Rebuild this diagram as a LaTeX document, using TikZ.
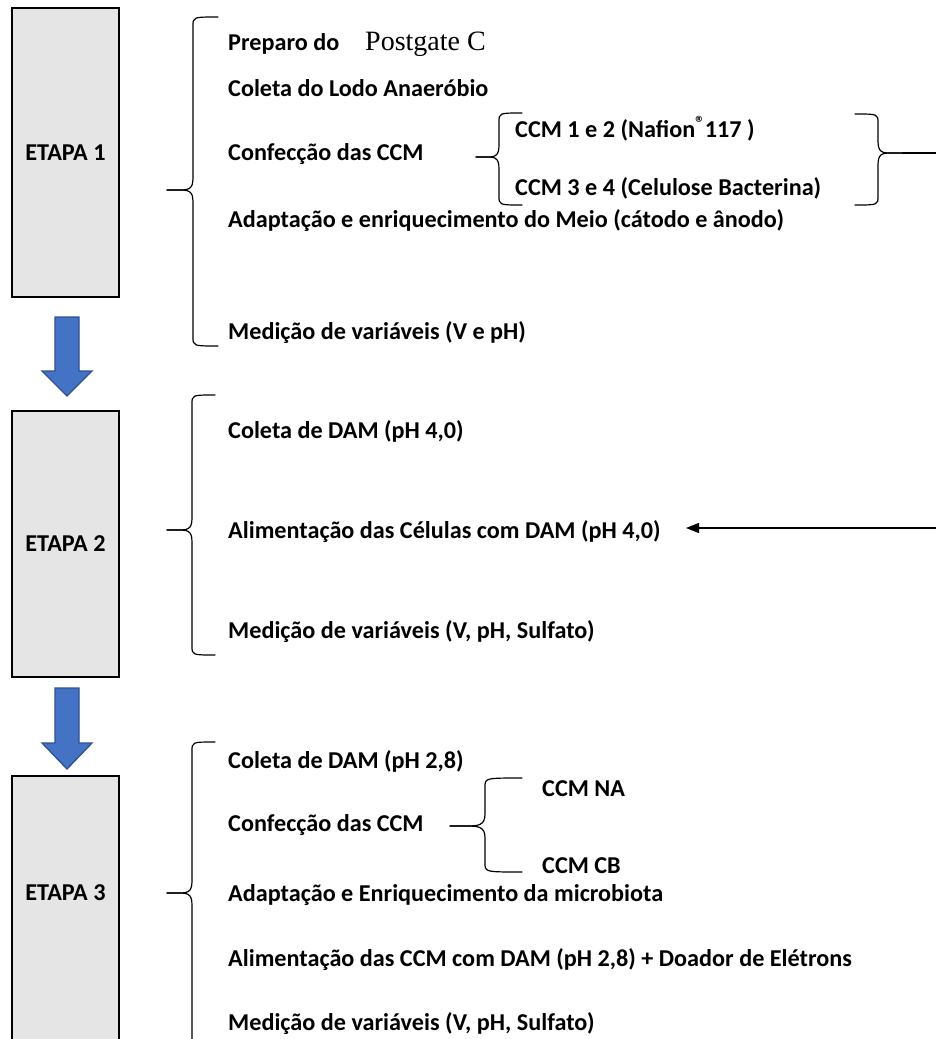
\documentclass[tikz,border=0pt]{standalone}
\usepackage{fontspec}
\setmainfont{Carlito}
\newfontfamily\pgserif{Liberation Serif}
\usetikzlibrary{arrows.meta}
\definecolor{stagegray}{HTML}{E5E5E5}
\definecolor{arrowblue}{HTML}{4472C4}
\definecolor{arrowedge}{HTML}{2F528F}
\newcommand\mybrc[6]{% xe, xv, xt, yt, ym, yb
  \draw[brc] (#1,#4) .. controls (#2,#4) .. (#2,#4+9) -- (#2,#5-12)
    .. controls (#2,#5) and ({#2+0.2*(#3-#2)},#5) .. ({#2+0.6*(#3-#2)},#5) -- (#3,#5);
  \draw[brc] (#3,#5) -- ({#2+0.6*(#3-#2)},#5) .. controls ({#2+0.2*(#3-#2)},#5) and (#2,#5) .. (#2,#5+12)
    -- (#2,#6-9) .. controls (#2,#6) .. (#1,#6);}
\newcommand\regmark{\raisebox{0.3em}{\fontsize{19}{19}\selectfont ®}}
\begin{document}
\begin{tikzpicture}[x=1pt,y=-1pt,
  stage/.style={draw=black,line width=2.5pt,fill=stagegray,minimum width=107pt,inner sep=0pt},
  stagetxt/.style={inner sep=0pt,font=\fontsize{24.2}{28}\selectfont\bfseries},
  item/.style={anchor=base west,inner sep=0pt,font=\fontsize{24.2}{28}\selectfont\bfseries},
  brc/.style={line width=1.2pt,line cap=round,line join=round},
  bluearrow/.style={fill=arrowblue,draw=arrowedge,line width=1.3pt,line join=miter},
  conn/.style={line width=1.3pt}]
\useasboundingbox (0,0) rectangle (936,1039);
\clip (0,0) rectangle (936,1039);
% stage boxes
\node[stage,minimum height=289pt] (box1) at (65.5,152.5) {};
\node[stagetxt] (et1) at (box1.center) {ETAPA 1};
\node[stage,minimum height=266pt] (box2) at (65.5,544) {};
\node[stagetxt] (et2) at (box2.center) {ETAPA 2};
\node[stage,minimum height=290pt] (box3) at (65.5,921) {};
\node[stagetxt] (et3) at (65.5,893) {ETAPA 3};
% blue arrows
\draw[bluearrow] (55,317) -- (79,317) -- (79,371) -- (92,371) -- (67,396) -- (42,371) -- (55,371) -- cycle;
\draw[bluearrow] (55,688) -- (79,688) -- (79,743) -- (92,743) -- (67,769) -- (42,743) -- (55,743) -- cycle;
% stage 1
\mybrc{218}{193}{167}{17}{190}{346}
\node[item] (s1a) at (228,50) {Preparo do};
\node[anchor=base west,inner sep=0pt,font=\pgserif\fontsize{28}{32}\selectfont] (s1b) at (365,50) {Postgate C};
\node[item] (s1c) at (228,96) {Coleta do Lodo Anaeróbio};
\node[item] (s1d) at (228,160) {Confecção das CCM};
\node[item] (s1e) at (228,227) {Adaptação e enriquecimento do Meio (cátodo e ânodo)};
\node[item] (s1f) at (228,339) {Medição de variáveis (V e pH)};
\mybrc{522}{499}{476}{113}{157}{205}
\node[item] (c1) at (515,137) {CCM 1 e 2 (Nafion\regmark117 )};
\node[item] (c2) at (515,195) {CCM 3 e 4 (Celulose Bacterina)};
\mybrc{855}{878}{902}{114}{153}{205}
\coordinate (rtip) at (902,153);
\coordinate (redge) at (937,153);
\draw[conn] (rtip) -- (redge);
% stage 2
\mybrc{215}{192}{167}{395}{530}{655}
\node[item] (s2a) at (228,438) {Coleta de DAM (pH 4,0)};
\node[item] (s2b) at (228,538) {Alimentação das Células com DAM (pH 4,0)};
\node[item] (s2c) at (228,638) {Medição de variáveis (V, pH, Sulfato)};
\coordinate (ain) at (937,528);
\coordinate (atip) at (686,528);
\draw[conn,-{Triangle[length=13pt,width=10pt]}] (ain) -- (atip);
% stage 3
\mybrc{215}{192}{167}{742}{893}{1070}
\node[item] (s3a) at (228,768) {Coleta de DAM (pH 2,8)};
\node[item] (s3b) at (228,831) {Confecção das CCM};
\node[item] (s3c) at (228,901) {Adaptação e Enriquecimento da microbiota};
\node[item] (s3d) at (228,966) {Alimentação das CCM com DAM (pH 2,8) + Doador de Elétrons};
\node[item] (s3e) at (228,1030) {Medição de variáveis (V, pH, Sulfato)};
\mybrc{522}{485}{450}{778}{826}{872}
\node[item] (n1) at (542,796) {CCM NA};
\node[item] (n2) at (542,873) {CCM CB};
\end{tikzpicture}
\end{document}
